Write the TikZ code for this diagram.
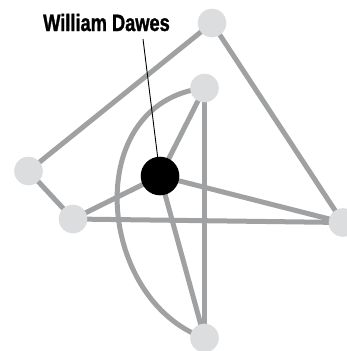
\documentclass[tikz,border=0pt]{standalone}
\usepackage{fontspec}
\newfontfamily\labelfont[FakeStretch=0.77,FakeBold=1.2]{Liberation Sans}
\definecolor{edgegray}{HTML}{9FA1A3}
\definecolor{nodegray}{HTML}{DCDDDE}
\begin{document}
\begin{tikzpicture}[x=1pt,y=-1pt,
  edge/.style={draw=edgegray,line width=5pt},
  vert/.style={circle,fill=nodegray,minimum size=28.6pt,inner sep=0pt},
  hub/.style={circle,fill=black,minimum size=38.6pt,inner sep=0pt},
  leader/.style={draw=black,line width=0.9pt}]
\useasboundingbox (0,0) rectangle (346,351);
\coordinate (cT) at (212,23);
\coordinate (cU) at (204.5,88);
\coordinate (cL) at (28.5,171);
\coordinate (cLL) at (73,219);
\coordinate (cR) at (343,222.5);
\coordinate (cB) at (204.5,338);
\coordinate (cC) at (160,176);
% edges
\draw[edge] (cT) -- (cL);
\draw[edge] (cT) -- (cR);
\draw[edge] (cL) -- (cLL);
\draw[edge] (cLL) -- (cC);
\draw[edge] (cLL) -- (cR);
\draw[edge] (cC) -- (cU);
\draw[edge] (cC) -- (cR);
\draw[edge] (cC) -- (cB);
\draw[edge] (cU) -- (cB);
\draw[edge] (cU) .. controls (79.5,102.7) and (96.8,300.2) .. (cB);
% label
\node[anchor=base,inner sep=0pt,font=\labelfont\bfseries\fontsize{23.7}{26}\selectfont] (lbl) at (106.5,31) {William Dawes};
\coordinate (lead) at (143,39);
\draw[leader] (lead) -- (cC);
% nodes
\node[vert] (T) at (cT) {};
\node[vert] (U) at (cU) {};
\node[vert] (L) at (cL) {};
\node[vert] (LL) at (cLL) {};
\node[vert] (R) at (cR) {};
\node[vert] (B) at (cB) {};
\node[hub] (C) at (cC) {};
\end{tikzpicture}
\end{document}
